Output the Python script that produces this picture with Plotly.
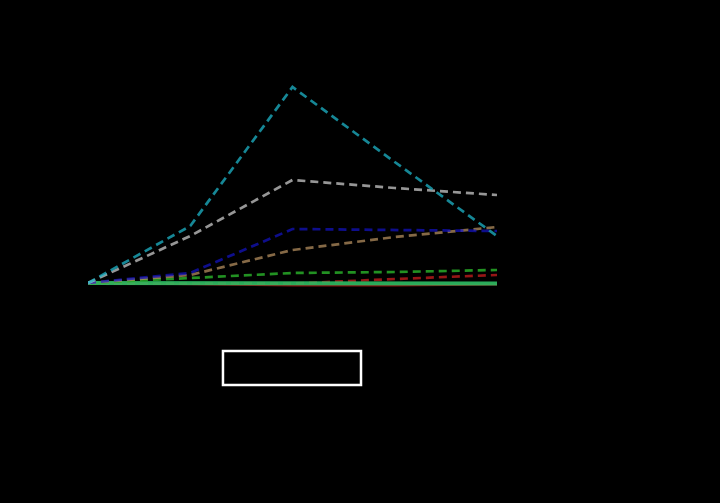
import plotly.graph_objects as go

steps = [0, 1, 2, 3, 4]

teal = [0, 28.5, 98, 60.5, 23.5]
gray = [0, 23.5, 51.5, 47.5, 44]
blue = [0, 5, 27, 26.5, 26]
tan = [0, 4, 16.5, 23, 28]
green_dash = [0, 2.5, 5, 5.5, 6.5]
red_dash = [-0.3, -0.3, -0.3, 2, 4]
red_solid = [0, -0.5, -1.2, -1.2, -0.8]
green_solid = [0, 0, -0.3, -0.3, -0.3]

DASH = "8px,5px"
series = [
    (red_solid, "rgba(170,20,20,0.8)", 2, "solid"),
    (red_dash, "rgba(200,30,30,0.75)", 2.7, DASH),
    (green_solid, "rgba(46,190,100,0.9)", 4, "solid"),
    (green_dash, "rgba(40,170,40,0.85)", 2.7, DASH),
    (tan, "rgba(190,150,100,0.7)", 2.7, DASH),
    (blue, "rgba(20,20,200,0.7)", 2.7, DASH),
    (gray, "rgba(200,200,200,0.75)", 2.7, DASH),
    (teal, "rgba(30,180,200,0.75)", 2.7, DASH),
]

fig = go.Figure()
for ys, col, w, d in series:
    fig.add_trace(go.Scatter(x=steps, y=ys, mode="lines",
                             line=dict(color=col, width=w, dash=d),
                             showlegend=False, hoverinfo="skip"))

# empty legend frame
fig.add_shape(type="rect", xref="paper", yref="paper",
              x0=0.330, x1=0.6675, y0=0.2346, y1=0.3022,
              line=dict(color="white", width=2.5), fillcolor="black")

fig.update_layout(
    width=720, height=503,
    margin=dict(l=88, r=223, t=0, b=0),
    paper_bgcolor="black", plot_bgcolor="black",
    xaxis=dict(range=[0, 4], visible=False),
    yaxis=dict(range=[-110, 141.5], visible=False),
)

# page itself black, no body margin
fig.write_html("out.html",
               config={"displayModeBar": False},
               post_script="document.body.style.margin='0';"
                           "document.body.style.background='black';")
